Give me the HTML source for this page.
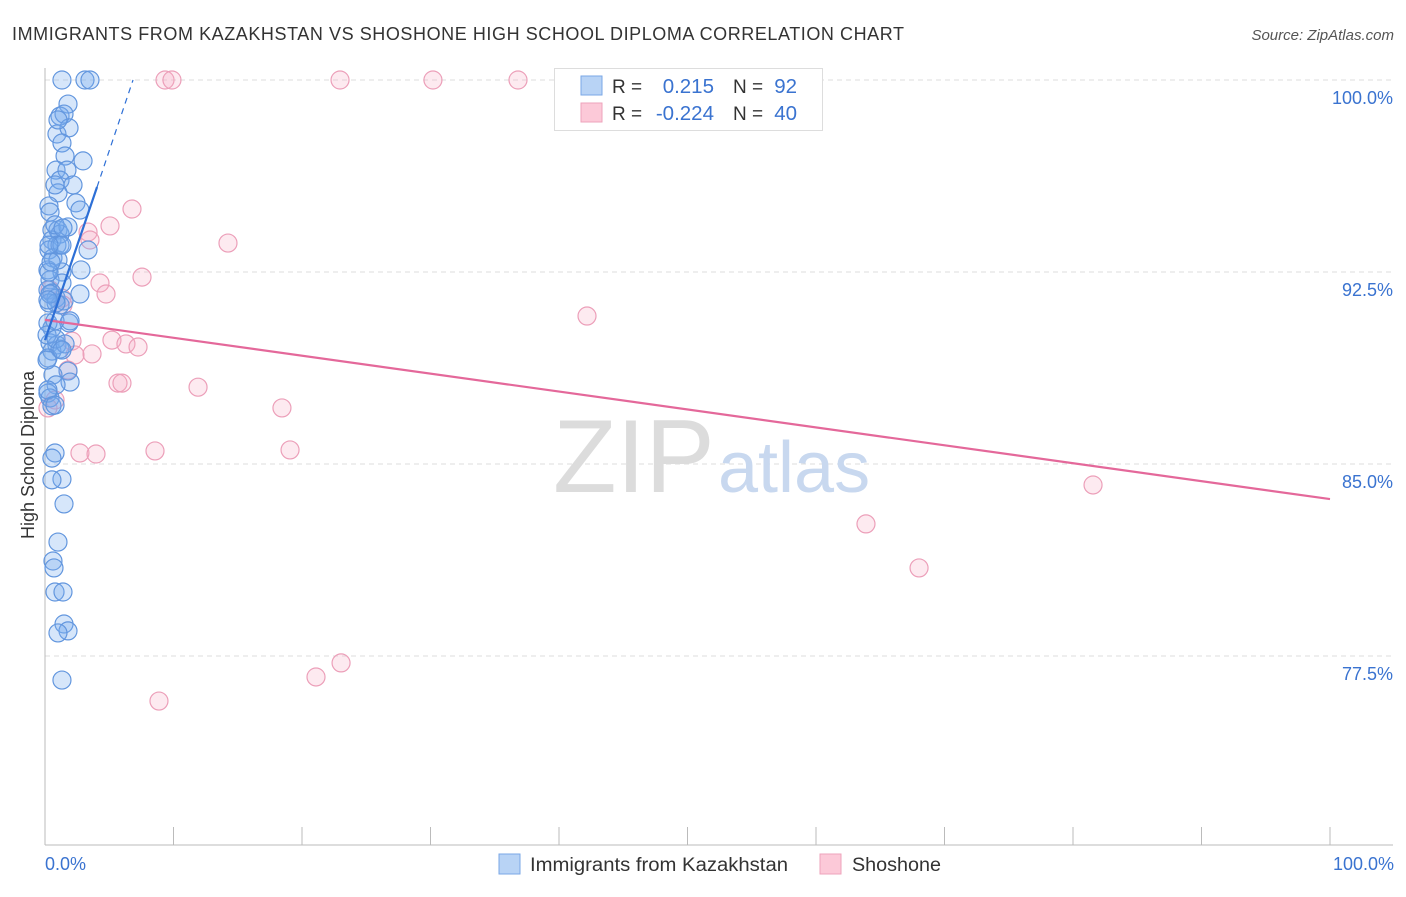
<!DOCTYPE html>
<html><head><meta charset="utf-8"><style>
body{margin:0;background:#fff;font-family:"Liberation Sans",sans-serif}
svg text{font-family:"Liberation Sans",sans-serif}
</style></head><body>
<svg id="chart" width="1406" height="892" viewBox="0 0 1406 892" xmlns="http://www.w3.org/2000/svg">
<text x="12" y="40" font-size="18" fill="#333" textLength="892" lengthAdjust="spacing">IMMIGRANTS FROM KAZAKHSTAN VS SHOSHONE HIGH SCHOOL DIPLOMA CORRELATION CHART</text>
<text x="1394" y="40" font-size="15" fill="#555" text-anchor="end" font-style="italic">Source: ZipAtlas.com</text>
<g id="grid"></g>
<text x="553" y="492" font-size="104" fill="#dcdcdc" font-family="Liberation Serif">ZIP</text>
<text x="718" y="492" font-size="72" fill="#c8d8ef">atlas</text>
<line x1="45" y1="68" x2="45" y2="845" stroke="#bbb"/>
<line x1="45" y1="845" x2="1393" y2="845" stroke="#bbb"/>
<g id="xticks"></g>
<g id="ylabels"></g>
<text transform="translate(34,455) rotate(-90)" font-size="18" fill="#333" text-anchor="middle">High School Diploma</text>
<text x="45" y="870" font-size="18" fill="#3a73d0">0.0%</text>
<text x="1394" y="870" font-size="18" fill="#3a73d0" text-anchor="end">100.0%</text>
<g id="pink"></g>
<g id="blue"></g>
<g id="lines"></g>
<g>
<rect x="554.5" y="68.5" width="268" height="62" fill="#fff" stroke="#ddd"/>
<rect x="581" y="76" width="21" height="19" fill="#b8d3f5" stroke="#7aa7e6"/>
<rect x="581" y="103" width="21" height="19" fill="#fcc9d8" stroke="#eea3bb"/>
<text x="612" y="93" font-size="19" fill="#333">R =</text>
<text x="714" y="93" font-size="20.5" fill="#3a73d0" text-anchor="end">0.215</text>
<text x="733" y="93" font-size="19" fill="#333">N =</text>
<text x="797" y="93" font-size="20.5" fill="#3a73d0" text-anchor="end">92</text>
<text x="612" y="120" font-size="19" fill="#333">R =</text>
<text x="714" y="120" font-size="20.5" fill="#3a73d0" text-anchor="end">-0.224</text>
<text x="733" y="120" font-size="19" fill="#333">N =</text>
<text x="797" y="120" font-size="20.5" fill="#3a73d0" text-anchor="end">40</text>
</g>
<g>
<rect x="499" y="854" width="21" height="20" fill="#b8d3f5" stroke="#7aa7e6"/>
<text x="530" y="871" font-size="19" fill="#333" textLength="258" lengthAdjust="spacingAndGlyphs">Immigrants from Kazakhstan</text>
<rect x="820" y="854" width="21" height="20" fill="#fcc9d8" stroke="#eea3bb"/>
<text x="852" y="871" font-size="19" fill="#333" textLength="89" lengthAdjust="spacingAndGlyphs">Shoshone</text>
</g>
</svg>
<script>
const yTicks=[100,92.5,85,77.5];
const yTickLabels=["100.0%","92.5%","85.0%","77.5%"];
const xTicks=[0,10,20,30,40,50,60,70,80,90,100];
const blueX=[1.32,3.11,3.5,1.79,1.17,1.48,0.93,1.87,1.32,1.56,2.96,0.86,1.71,1.17,2.18,1.01,0.31,2.41,2.72,0.39,0.54,1.01,1.17,1.79,0.54,0.93,0.31,3.35,0.62,0.23,2.8,1.32,0.39,1.32,0.23,0.54,0.86,0.31,1.17,2.72,1.48,1.87,0.54,0.39,0.93,0.54,1.17,0.23,1.79,0.62,1.95,0.86,0.23,0.39,0.54,0.78,0.54,1.32,0.54,1.48,1.01,0.62,0.7,0.78,1.4,1.48,1.79,1.01,1.32,0.23,0.78,0.16,0.86,0.16,1.01,0.78,1.17,1.32,0.39,1.95,0.86,1.56,0.31,0.47,0.31,1.4,0.78,1.01,0.23,0.78,0.23,1.32];
const blueY=[100,100,100,99.06,98.59,98.67,97.89,98.13,97.54,97.03,96.84,96.48,96.48,96.09,95.9,95.59,95.08,95.2,94.92,94.84,94.14,94.14,93.98,94.26,93.75,93.55,93.36,93.36,93.05,92.58,92.58,92.5,92.19,92.07,91.8,91.68,91.48,91.29,91.21,91.64,91.37,90.51,90.31,89.73,89.65,89.41,89.49,89.14,88.63,88.48,88.2,88.09,87.77,87.58,87.27,85.43,85.23,84.41,84.38,83.44,81.95,81.21,80.94,80.0,80.0,78.75,78.48,78.4,76.56,90.51,90.59,90.04,91.29,89.06,92.97,94.34,93.55,93.55,91.64,90.59,89.88,89.69,92.5,92.89,93.55,94.22,95.9,98.44,87.89,87.3,91.41,89.45];
const pinkX=[9.34,9.88,22.96,30.19,36.81,6.77,5.06,14.24,3.35,3.5,7.55,4.28,4.75,1.32,1.4,42.18,5.21,6.3,7.24,2.1,3.66,2.33,5.68,5.99,11.91,1.79,18.44,0.78,0.23,19.07,8.56,2.72,3.97,81.56,63.89,68.02,23.04,21.09,8.87,0.39];
const pinkY=[100,100,100,100,100,94.96,94.3,93.63,94.06,93.75,92.3,92.07,91.64,91.48,91.21,90.78,89.84,89.69,89.57,89.8,89.3,89.26,88.16,88.16,88.0,88.67,87.19,87.5,87.19,85.55,85.51,85.43,85.39,84.18,82.66,80.94,77.23,76.68,75.74,91.8];
const blueLine=[[0,89.84],[4.05,95.82]];
const blueDash=[[4.05,95.82],[6.85,100]];
const pinkLine=[[0,90.63],[100,83.63]];

const NS="http://www.w3.org/2000/svg";
const X=v=>45+v*12.85;
const Y=v=>80+(100-v)*25.6;
function mk(tag,attrs,parent){const e=document.createElementNS(NS,tag);for(const k in attrs)e.setAttribute(k,attrs[k]);parent.appendChild(e);return e;}
const grid=document.getElementById('grid'),yl=document.getElementById('ylabels'),xt=document.getElementById('xticks');
yTicks.forEach((t,i)=>{
  const l=mk('line',{x1:45,x2:1393,y1:Y(t),y2:Y(t),stroke:'#ddd','stroke-dasharray':'5,4'},grid);
  
  
  const tx=mk('text',{x:1393,y:Y(t)+24,'font-size':18,fill:'#3a73d0','text-anchor':'end'},yl);
  tx.textContent=yTickLabels[i];
  
  
});
xTicks.forEach(t=>{
  const l=mk('line',{x1:X(t),x2:X(t),y1:827,y2:845,stroke:'#bbb'},xt);
  
  
});
function pts(xs,ys,g,fill,stroke,name){
  xs.forEach((v,i)=>{
    const c=mk('circle',{cx:X(v),cy:Y(ys[i]),r:9,fill:fill,stroke:stroke,'stroke-width':1.2},g);
    
    
  });
}
pts(pinkX,pinkY,document.getElementById('pink'),'rgba(248,170,195,0.25)','#ec9fb9','shoshone-point');
pts(blueX,blueY,document.getElementById('blue'),'rgba(120,172,238,0.3)','#6296de','kazakhstan-point');
const lg=document.getElementById('lines');
function ln(p,stroke,w,dash,name){
  const a={x1:X(p[0][0]),y1:Y(p[0][1]),x2:X(p[1][0]),y2:Y(p[1][1]),stroke:stroke,'stroke-width':w};
  if(dash)a['stroke-dasharray']=dash;
  const l=mk('line',a,lg);
  
  
}
ln(pinkLine,'#e4689a',2.2,null,'shoshone-trend-line');
ln(blueLine,'#2d6fd6',2.2,null,'kazakhstan-trend-line');
ln(blueDash,'#2d6fd6',1.2,'6,5','kazakhstan-trend-extension');
</script>
</body></html>
